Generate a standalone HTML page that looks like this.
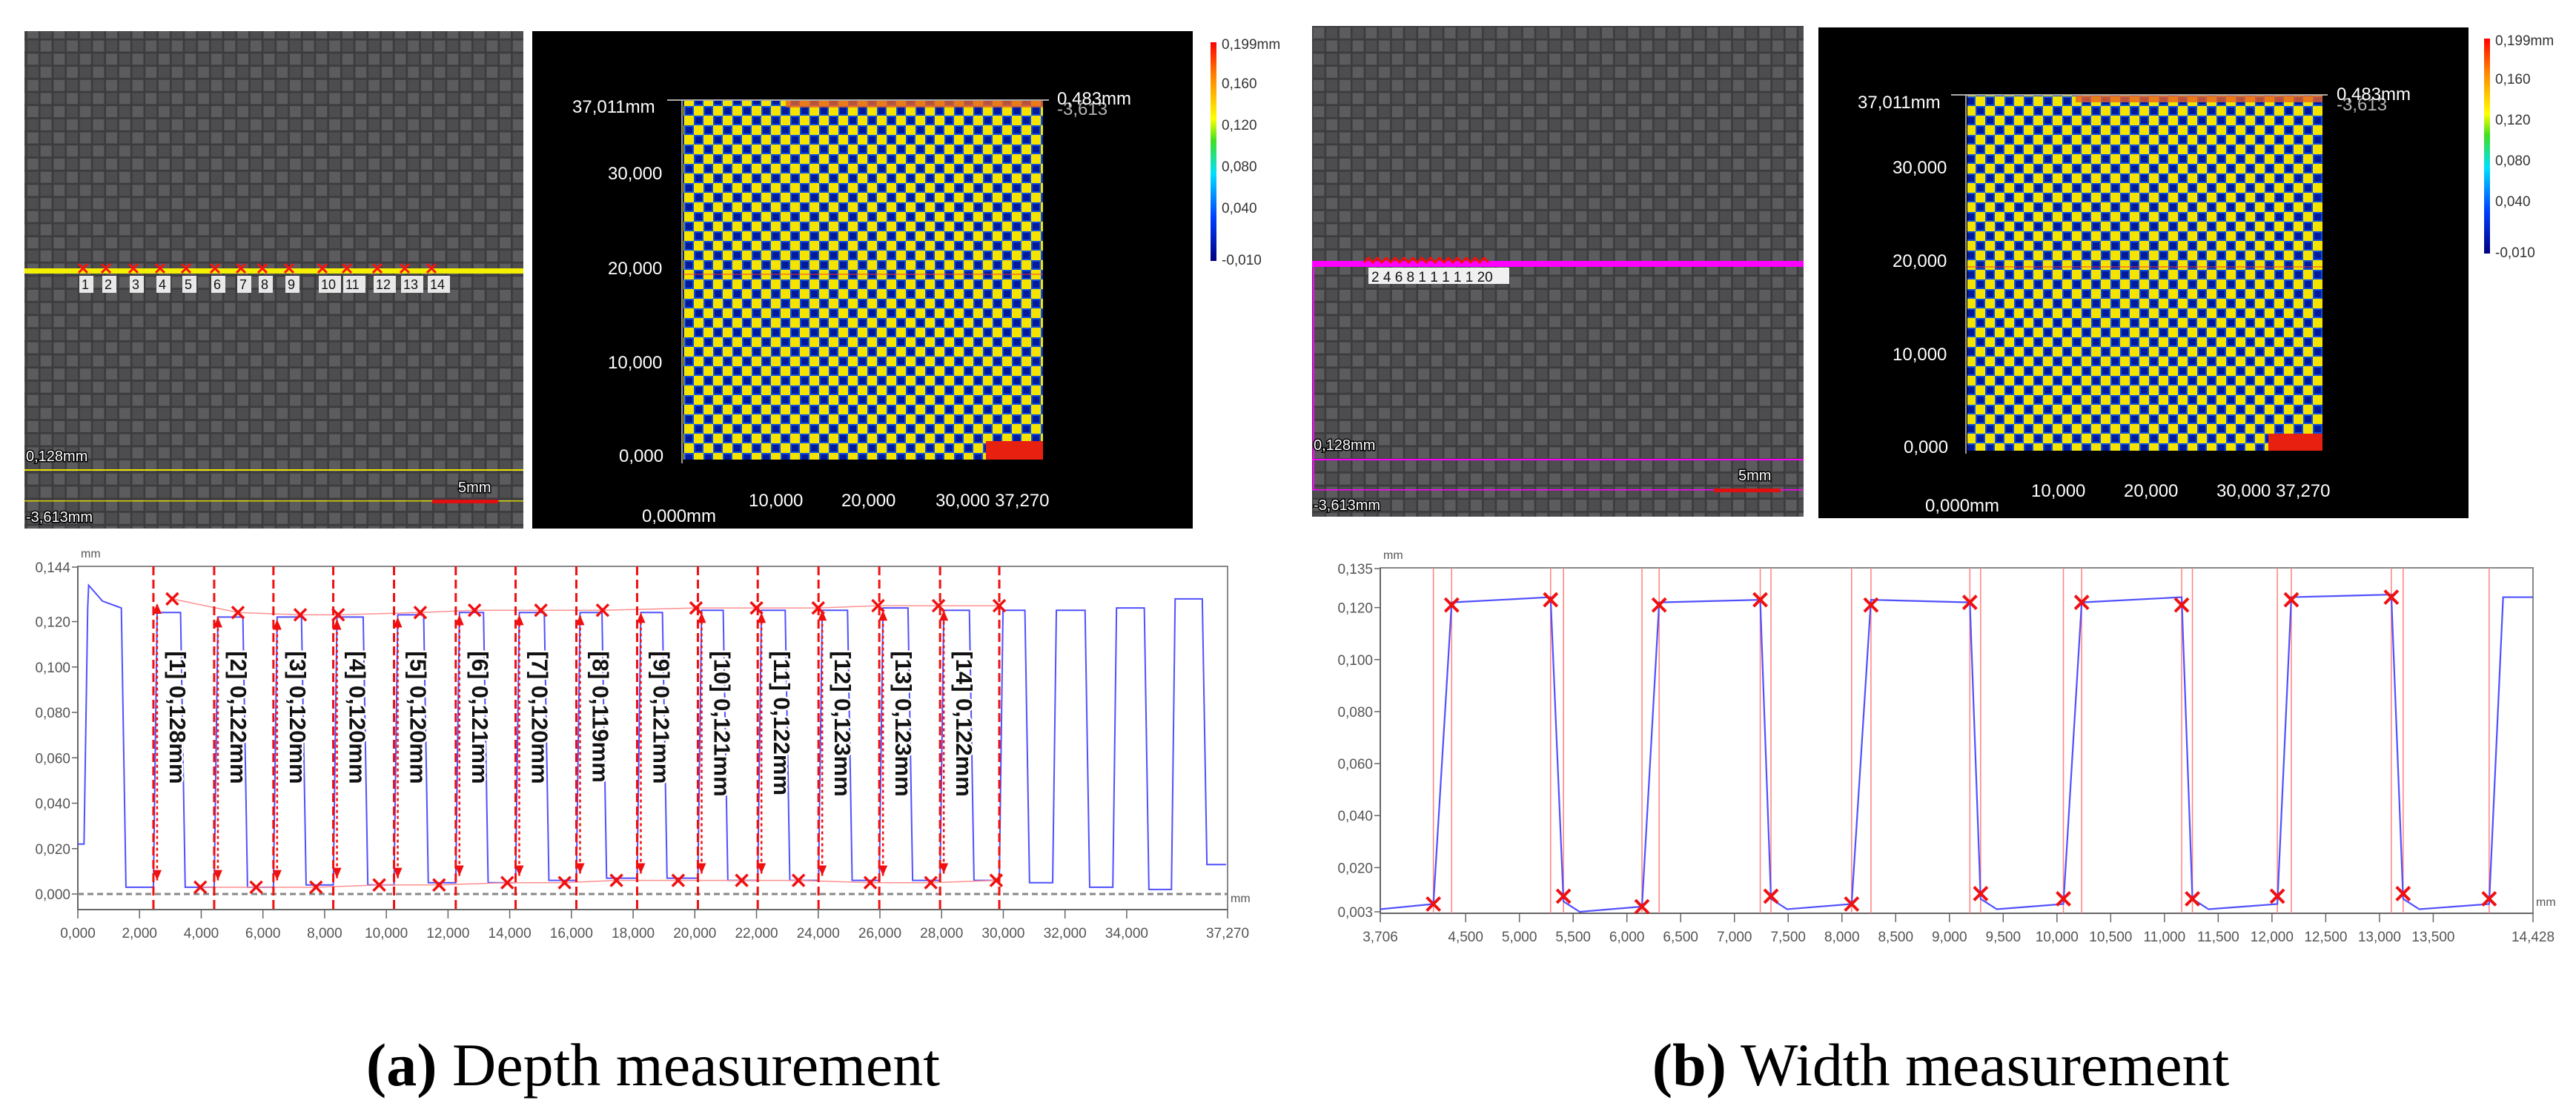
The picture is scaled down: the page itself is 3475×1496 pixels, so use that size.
<!DOCTYPE html>
<html><head><meta charset="utf-8"><style>
html,body{margin:0;padding:0;background:#fff;}
svg{display:block;}
.tk{font-family:"Liberation Sans",sans-serif;font-size:19px;fill:#555;}
.wt{font-family:"Liberation Sans",sans-serif;font-size:24px;fill:#fff;}
.cb{font-family:"Liberation Sans",sans-serif;font-size:19px;fill:#333;}
.ml{font-family:"Liberation Sans",sans-serif;font-size:20px;fill:#fff;stroke:#000;stroke-width:3;paint-order:stroke;}
.cap{font-family:"Liberation Serif",serif;font-size:82px;fill:#000;}
.dl{font-family:"Liberation Sans",sans-serif;font-size:31px;font-weight:bold;fill:#111;stroke:#fff;stroke-width:5;paint-order:stroke;}
</style></head><body>
<svg id="fig" width="3475" height="1496" viewBox="0 0 3475 1496" xmlns="http://www.w3.org/2000/svg">
<defs>
<pattern id="photo" width="35.4" height="35.4" patternUnits="userSpaceOnUse">
<rect width="35.4" height="35.4" fill="#3c3b3d"/>
<rect x="1.5" y="1.5" width="15" height="15" fill="#5c5b5d"/>
<rect x="19.2" y="1.5" width="15" height="15" fill="#4d4c4e"/>
<rect x="1.5" y="19.2" width="15" height="15" fill="#4d4c4e"/>
<rect x="19.2" y="19.2" width="15" height="15" fill="#5c5b5d"/>
</pattern>
<pattern id="heat" width="26" height="26" patternUnits="userSpaceOnUse">
<rect width="26" height="26" fill="#f5e400"/>
<rect x="0" y="0" width="13" height="13" fill="#1050e0"/>
<rect x="2" y="2" width="9" height="9" fill="#001a9a"/>
<rect x="13" y="13" width="13" height="13" fill="#1050e0"/>
<rect x="15" y="15" width="9" height="9" fill="#001a9a"/>
</pattern>
<linearGradient id="cbar" x1="0" y1="1" x2="0" y2="0">
<stop offset="0" stop-color="#000080"/><stop offset="0.2" stop-color="#0040ff"/>
<stop offset="0.4" stop-color="#00e0ff"/><stop offset="0.55" stop-color="#40e020"/>
<stop offset="0.65" stop-color="#ffff00"/><stop offset="0.85" stop-color="#ff8000"/>
<stop offset="1" stop-color="#ff0000"/></linearGradient>
</defs>

<g>
<rect x="33" y="42" width="673" height="671" fill="url(#photo)"/>
<rect x="33" y="362" width="673" height="7" fill="#f4f000"/>
<rect x="33" y="633" width="673" height="2" fill="#e8e000"/>
<rect x="33" y="675" width="673" height="1.5" fill="#d8d000"/>
<text class="ml" x="35" y="622">0,128mm</text>
<text class="ml" x="35" y="704">-3,613mm</text>
<text class="ml" x="618" y="664">5mm</text>
<rect x="583" y="674" width="89" height="5" fill="#e01010"/>
<g id="photoLabels"></g>
</g>

<g>
<rect x="718" y="42" width="891" height="671" fill="#000"/>
<rect x="922" y="135" width="485" height="485" fill="url(#heat)"/>
<rect x="1060" y="135" width="347" height="10" fill="#e86020" opacity="0.8"/>
<rect x="1330" y="595" width="77" height="25" fill="#e82010"/>
<line x1="900" y1="135" x2="1415" y2="135" stroke="#aaa" stroke-width="2"/>
<line x1="922" y1="370" x2="1407" y2="370" stroke="#ff3030" stroke-width="1"/>
<line x1="920" y1="135" x2="920" y2="625" stroke="#ccc" stroke-width="1.5"/>
<text class="wt" x="772" y="152">37,011mm</text>
<text class="wt" x="820" y="242">30,000</text>
<text class="wt" x="820" y="370">20,000</text>
<text class="wt" x="820" y="497">10,000</text>
<text class="wt" x="835" y="623">0,000</text>
<text class="wt" x="1010" y="683">10,000</text>
<text class="wt" x="1135" y="683">20,000</text>
<text class="wt" x="1262" y="683">30,000 37,270</text>
<text class="wt" x="866" y="704">0,000mm</text>
<text class="wt" x="1426" y="141">0,483mm</text>
<text class="wt" x="1426" y="155" opacity="0.7">-3,613</text>
</g>
<g>
<rect x="1633" y="57" width="8" height="295" fill="url(#cbar)"/>
<text class="cb" x="1648" y="66">0,199mm</text>
<text class="cb" x="1648" y="119">0,160</text>
<text class="cb" x="1648" y="175">0,120</text>
<text class="cb" x="1648" y="231">0,080</text>
<text class="cb" x="1648" y="287">0,040</text>
<text class="cb" x="1648" y="357">-0,010</text>
</g>

<g>
<rect x="1770" y="35" width="663" height="662" fill="url(#photo)"/>
<rect x="1770" y="352" width="663" height="8" fill="#ff00ff"/>
<rect x="1771" y="356" width="2" height="305" fill="#ff00ff"/>
<rect x="1770" y="619" width="663" height="2" fill="#ff00ff"/>
<rect x="1770" y="660" width="663" height="1.5" fill="#ff00ff"/>
<path d="M1840 354 l6 -6 l6 6 l6 -6 l6 6 l6 -6 l6 6 l6 -6 l6 6 l6 -6 l6 6 l6 -6 l6 6 l6 -6 l6 6 l6 -6 l6 6 l6 -6 l6 6 l6 -6 l6 6 l6 -6 l6 6 l6 -6 l6 6 l6 -6 l6 6 l6 -6 l6 6" fill="none" stroke="#f01010" stroke-width="3"/>
<rect x="1846" y="361" width="190" height="22" fill="#f0f0f0"/>
<text x="1850" y="380" style="font-family:'Liberation Sans',sans-serif;font-size:19px;fill:#111;">2 4 6 8 1 1 1 1 1 20</text>
<text class="ml" x="1772" y="607">0,128mm</text>
<text class="ml" x="1772" y="688">-3,613mm</text>
<text class="ml" x="2345" y="648">5mm</text>
<rect x="2312" y="659" width="90" height="5" fill="#e01010"/>
</g>
<g>
<rect x="2453" y="37" width="877" height="662" fill="#000"/>
<rect x="2654" y="128" width="479" height="480" fill="url(#heat)"/>
<rect x="2800" y="128" width="333" height="10" fill="#e86020" opacity="0.8"/>
<rect x="3060" y="585" width="73" height="23" fill="#e82010"/>
<line x1="2632" y1="128" x2="3140" y2="128" stroke="#aaa" stroke-width="2"/>
<line x1="2654" y1="360" x2="3133" y2="360" stroke="#ff3030" stroke-width="1"/>
<line x1="2652" y1="128" x2="2652" y2="612" stroke="#ccc" stroke-width="1.5"/>
<text class="wt" x="2506" y="146">37,011mm</text>
<text class="wt" x="2553" y="234">30,000</text>
<text class="wt" x="2553" y="360">20,000</text>
<text class="wt" x="2553" y="486">10,000</text>
<text class="wt" x="2568" y="611">0,000</text>
<text class="wt" x="2740" y="670">10,000</text>
<text class="wt" x="2865" y="670">20,000</text>
<text class="wt" x="2990" y="670">30,000 37,270</text>
<text class="wt" x="2597" y="690">0,000mm</text>
<text class="wt" x="3152" y="135">0,483mm</text>
<text class="wt" x="3152" y="149" opacity="0.7">-3,613</text>
</g>
<g>
<rect x="3351" y="52" width="8" height="290" fill="url(#cbar)"/>
<text class="cb" x="3366" y="61">0,199mm</text>
<text class="cb" x="3366" y="113">0,160</text>
<text class="cb" x="3366" y="168">0,120</text>
<text class="cb" x="3366" y="223">0,080</text>
<text class="cb" x="3366" y="278">0,040</text>
<text class="cb" x="3366" y="347">-0,010</text>
</g>

<g id="depthChart"></g>
<g id="widthChart"></g>

<text class="cap" x="881" y="1464" text-anchor="middle"><tspan font-weight="bold">(a)</tspan> Depth measurement</text>
<text class="cap" x="2618" y="1464" text-anchor="middle"><tspan font-weight="bold">(b)</tspan> Width measurement</text>
</svg>
<script>
const depthXTicks=[0,2,4,6,8,10,12,14,16,18,20,22,24,26,28,30,32,34,37.27];
const depthXTickLabels=["0,000","2,000","4,000","6,000","8,000","10,000","12,000","14,000","16,000","18,000","20,000","22,000","24,000","26,000","28,000","30,000","32,000","34,000","37,270"];
const depthYTicks=[0,0.02,0.04,0.06,0.08,0.1,0.12,0.144];
const depthYTickLabels=["0,000","0,020","0,040","0,060","0,080","0,100","0,120","0,144"];
const depthRises=[0.2,2.45,4.42,6.34,8.28,10.25,12.25,14.19,16.16,18.13,20.10,22.04,24.01,25.98,27.95,29.87,31.6,33.55,35.45];
const depthFalls=[1.46,3.38,5.4,7.3,9.3,11.26,13.2,15.17,17.04,19.0,20.97,22.98,25.0,26.96,28.95,30.75,32.7,34.62,36.5];
const depthHighs=[0.126,0.124,0.122,0.122,0.122,0.123,0.124,0.124,0.124,0.124,0.125,0.125,0.125,0.126,0.125,0.125,0.125,0.126,0.130];
const depthLows=[0.003,0.003,0.003,0.004,0.004,0.005,0.005,0.006,0.007,0.007,0.006,0.006,0.006,0.006,0.006,0.005,0.003,0.002,0.013];
const depthStartLow=0.022;
const depthMeasX=[2.45,4.42,6.34,8.28,10.25,12.25,14.19,16.16,18.13,20.10,22.04,24.01,25.98,27.95];
const depthMeasEnd=[29.87];
const depthMeasVals=["0,128","0,122","0,120","0,120","0,120","0,121","0,120","0,119","0,121","0,121","0,122","0,123","0,123","0,122"];
const depthTopX=[3.06,5.19,7.21,8.44,11.1,12.86,15.01,17.01,20.04,22.0,24.0,25.94,27.9,29.87];
const depthTopY=[0.130,0.124,0.123,0.123,0.124,0.125,0.125,0.125,0.126,0.126,0.126,0.127,0.127,0.127];
const depthBotX=[3.97,5.78,7.72,9.77,11.71,13.92,15.78,17.46,19.46,21.52,23.36,25.69,27.65,29.77];
const depthBotY=[0.003,0.003,0.003,0.004,0.004,0.005,0.005,0.006,0.006,0.006,0.006,0.005,0.005,0.006];
const widthXTicks=[3.706,4.5,5,5.5,6,6.5,7,7.5,8,8.5,9,9.5,10,10.5,11,11.5,12,12.5,13,13.5,14.428];
const widthXTickLabels=["3,706","4,500","5,000","5,500","6,000","6,500","7,000","7,500","8,000","8,500","9,000","9,500","10,000","10,500","11,000","11,500","12,000","12,500","13,000","13,500","14,428"];
const widthYTicks=[0.003,0.02,0.04,0.06,0.08,0.1,0.12,0.135];
const widthYTickLabels=["0,003","0,020","0,040","0,060","0,080","0,100","0,120","0,135"];
const widthRises=[4.20,6.14,8.09,10.06,12.05,14.02];
const widthRiseTops=[4.37,6.30,8.27,10.23,12.18,14.15];
const widthFalls=[5.29,7.24,9.19,11.16,13.11];
const widthFallBots=[5.41,7.34,9.29,11.26,13.22];
const widthHighStart=[0.122,0.122,0.123,0.122,0.124,0.124];
const widthHighEnd=[0.124,0.123,0.122,0.124,0.125,0.124];
const widthLows=[0.004,0.003,0.004,0.004,0.004,0.004];
const widthMarkX=[4.20,4.37,5.29,5.41,6.14,6.30,7.24,7.34,8.09,8.27,9.19,9.29,10.06,10.23,11.16,11.26,12.05,12.18,13.11,13.22,14.02];
const widthMarkY=[0.006,0.121,0.123,0.009,0.005,0.121,0.123,0.009,0.006,0.121,0.122,0.010,0.008,0.122,0.121,0.008,0.009,0.123,0.124,0.010,0.008];
const photoLabelX=[116,147,184,220,255,294,329,358,394,439,472,513,550,586];

const NS="http://www.w3.org/2000/svg";
function mk(tag,attrs,parent){const e=document.createElementNS(NS,tag);for(const k in attrs)e.setAttribute(k,attrs[k]);parent.appendChild(e);return e;}
function cross(g,x,y,s,w,col){mk('path',{d:`M${x-s} ${y-s}L${x+s} ${y+s}M${x+s} ${y-s}L${x-s} ${y+s}`,stroke:col,'stroke-width':w,fill:'none'},g);}

const pl=document.getElementById('photoLabels');
photoLabelX.forEach((x,i)=>{
  cross(pl,x-4,362,6,3,'#ff1010');
  const r=mk('rect',{x:x-9,y:372,width:i>8?30:19,height:23,fill:'#e8e8e8'},pl);
  
  
  const t=mk('text',{x:x-6,y:390,style:"font-family:'Liberation Sans',sans-serif;font-size:18px;fill:#111"},pl);
  t.textContent=String(i+1);
});

function axes(g,L,R,T,B,X,Y,xt,xl,yt,yl){
  mk('rect',{x:L,y:T,width:R-L,height:B-T,fill:'#fff',stroke:'#888','stroke-width':2},g);
  mk('line',{x1:L,y1:B,x2:R,y2:B,stroke:'#666','stroke-width':2},g);
  mk('line',{x1:L,y1:T,x2:L,y2:B,stroke:'#666','stroke-width':2},g);
  xt.forEach((v,i)=>{const x=X(v);mk('line',{x1:x,y1:B,x2:x,y2:B+12,stroke:'#666','stroke-width':1.5},g);
    const t=mk('text',{class:'tk',x:x,y:B+38,'text-anchor':'middle'},g);t.textContent=xl[i];
    });
  yt.forEach((v,i)=>{const y=Y(v);mk('line',{x1:L-8,y1:y,x2:L,y2:y,stroke:'#666','stroke-width':1.5},g);
    const t=mk('text',{class:'tk',x:L-10,y:y+7,'text-anchor':'end'},g);t.textContent=yl[i];
    });
  const u=mk('text',{class:'tk',x:L+4,y:T-12,style:'font-size:16px'},g);u.textContent='mm';
  const u2=mk('text',{class:'tk',x:R+4,y:B-10,style:'font-size:16px'},g);u2.textContent='mm';
}

(function(){
  const g=document.getElementById('depthChart');
  const L=105,R=1656,T=764,B=1227;
  const X=v=>L+v/37.27*(R-L), Y=v=>1206-v/0.144*(1206-765);
  axes(g,L,R,T,B,X,Y,depthXTicks,depthXTickLabels,depthYTicks,depthYTickLabels);
  mk('line',{x1:L,y1:Y(0),x2:R,y2:Y(0),stroke:'#888','stroke-width':3,'stroke-dasharray':'8 5'},g);
  let d=`M${X(0)} ${Y(depthStartLow)}`;
  let prevLow=depthStartLow;
  depthRises.forEach((r,i)=>{
    d+=`L${X(r)} ${Y(prevLow)}L${X(r+0.12)} ${Y(depthHighs[i])}`;
    if(i===0)d+=`L${X(0.35)} ${Y(0.136)}L${X(0.8)} ${Y(0.129)}`;
    d+=`L${X(depthFalls[i]-0.05)} ${Y(depthHighs[i])}L${X(depthFalls[i]+0.1)} ${Y(depthLows[i])}`;
    const nx=i+1<depthRises.length?depthRises[i+1]:37.27;
    d+=`L${X(nx-0.05)} ${Y(depthLows[i])}`;
    prevLow=depthLows[i];
  });
  const p=mk('path',{d:d,fill:'none',stroke:'#5050ff','stroke-width':2},g);
  
  let tp='',bp='';
  depthTopX.forEach((x,i)=>{tp+=(i?'L':'M')+X(x)+' '+Y(depthTopY[i]);});
  depthBotX.forEach((x,i)=>{bp+=(i?'L':'M')+X(x)+' '+Y(depthBotY[i]);});
  mk('path',{d:tp,fill:'none',stroke:'#ff9090','stroke-width':1.5},g);
  mk('path',{d:bp,fill:'none',stroke:'#ff9090','stroke-width':1.5},g);
  depthMeasX.concat(depthMeasEnd).forEach(x=>{
    const l=mk('line',{x1:X(x),y1:T,x2:X(x),y2:B,stroke:'#f01010','stroke-width':3,'stroke-dasharray':'12 6'},g);
    
  });
  depthMeasX.forEach((x,i)=>{
    const ax=X(x)+5;
    mk('line',{x1:ax,y1:Y(depthBotY[i]+0.003),x2:ax,y2:Y(depthTopY[i]-0.002),stroke:'#f01010','stroke-width':2.5,'stroke-dasharray':'4 4'},g);
    mk('path',{d:`M${ax-6} ${Y(depthTopY[i]-0.002)+14}L${ax} ${Y(depthTopY[i]-0.002)}L${ax+6} ${Y(depthTopY[i]-0.002)+14}Z`,fill:'#f01010'},g);
    mk('path',{d:`M${ax-6} ${Y(depthBotY[i]+0.003)-14}L${ax} ${Y(depthBotY[i]+0.003)}L${ax+6} ${Y(depthBotY[i]+0.003)-14}Z`,fill:'#f01010'},g);
    const cx=X(x)+22, cy=Y(0.107);
    const t=mk('text',{class:'dl',x:cx,y:cy,transform:`rotate(90 ${cx} ${cy})`},g);
    t.textContent=`[${i+1}] ${depthMeasVals[i]}mm`;
    
  });
  depthTopX.forEach((x,i)=>cross(g,X(x),Y(depthTopY[i]),8,3.5,'#f01010'));
  depthBotX.forEach((x,i)=>cross(g,X(x),Y(depthBotY[i]),8,3.5,'#f01010'));
})();

(function(){
  const g=document.getElementById('widthChart');
  const L=1862,R=3417,T=766,B=1232;
  const X=v=>L+(v-3.706)/(14.428-3.706)*(R-L), Y=v=>1230-(v-0.003)/0.132*(1230-767);
  axes(g,L,R,T,B,X,Y,widthXTicks,widthXTickLabels,widthYTicks,widthYTickLabels);
  widthMarkX.forEach(x=>{
    const l=mk('line',{x1:X(x),y1:T,x2:X(x),y2:B,stroke:'#ff8080','stroke-width':1.5},g);
    
  });
  let d=`M${X(3.706)} ${Y(widthLows[0])}`;
  widthRises.forEach((r,i)=>{
    d+=`L${X(r)} ${Y(widthLows[i]+0.002)}L${X(widthRiseTops[i])} ${Y(widthHighStart[i])}`;
    if(i<widthFalls.length){
      d+=`L${X(widthFalls[i])} ${Y(widthHighEnd[i])}L${X(widthFallBots[i])} ${Y(widthLows[i+1]+0.004)}L${X(widthFallBots[i]+0.15)} ${Y(widthLows[i+1])}`;
    } else {
      d+=`L${X(14.428)} ${Y(widthHighEnd[i])}`;
    }
  });
  const p=mk('path',{d:d,fill:'none',stroke:'#5050ff','stroke-width':2.2},g);
  
  widthMarkX.forEach((x,i)=>cross(g,X(x),Y(widthMarkY[i]),9,4,'#f01010'));
})();
</script>
</body></html>
